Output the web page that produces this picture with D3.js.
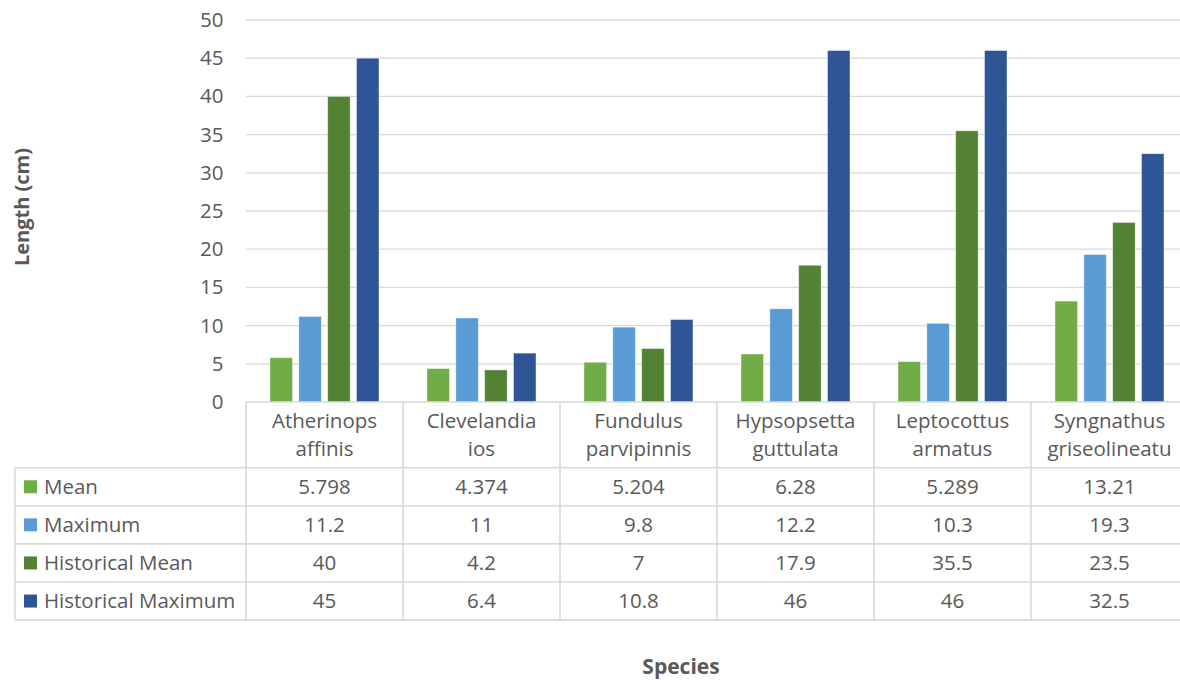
<!DOCTYPE html>
<html>
<head>
<meta charset="utf-8">
<script src="https://cdn.jsdelivr.net/npm/d3@7"></script>
<style>
  html, body { margin: 0; padding: 0; background: #fff; }
  svg { display: block; }
  text { font-family: "Open Sans", "Noto Sans", sans-serif; fill: #595959; }
</style>
</head>
<body>
<svg id="chart" width="1180" height="680"></svg>
<script>
// Species along the category axis (two-line labels)
const species = [
  "Atherinops affinis",
  "Clevelandia ios",
  "Fundulus parvipinnis",
  "Hypsopsetta guttulata",
  "Leptocottus armatus",
  "Syngnathus griseolineatu"
];

const seriesNames = ["Mean", "Maximum", "Historical Mean", "Historical Maximum"];

// Lengths in cm, one array per series
const mean       = [5.798, 4.374, 5.204, 6.28, 5.289, 13.21];
const maximum    = [11.2, 11, 9.8, 12.2, 10.3, 19.3];
const histMean   = [40, 4.2, 7, 17.9, 35.5, 23.5];
const histMax    = [45, 6.4, 10.8, 46, 46, 32.5];

const yTicks = [0, 5, 10, 15, 20, 25, 30, 35, 40, 45, 50];

const seriesValues = [mean, maximum, histMean, histMax];
const colors = ["#70AD47", "#5B9BD5", "#548235", "#2F5597"];

const svg = d3.select("#chart");

const plot = { left: 246, right: 1188, top: 20, bottom: 402 };
const table = { left: 15, headerBottom: 467.7, rowH: 38.1 };
const fs = 20.5;

const x = d3.scaleBand().domain(species).range([plot.left, plot.right]).padding(0);
const x1 = d3.scaleBand().domain(seriesNames).range([24, 133]).paddingInner(0.22);
const y = d3.scaleLinear().domain([0, 50]).range([plot.bottom, plot.top]);

// Gridlines
const grid = svg.append("g");
grid.selectAll("line").data(yTicks.filter(t => t > 0)).join("line")
  .attr("x1", plot.left).attr("x2", plot.right)
  .attr("y1", d => y(d)).attr("y2", d => y(d))
  .attr("stroke", "#d9d9d9").attr("stroke-width", 1.3);

// Y axis tick labels
const yAxis = d3.axisLeft(y).tickValues(yTicks).tickSize(0).tickPadding(22.5);
const ya = svg.append("g").attr("transform", `translate(${plot.left},0)`).call(yAxis);
ya.select(".domain").remove();
ya.selectAll("text").attr("font-size", fs).attr("fill", "#595959")
  .attr("font-family", "'Open Sans', sans-serif");

// Bars
const groups = svg.append("g").selectAll("g").data(species).join("g")
  .attr("transform", d => `translate(${x(d)},0)`);
groups.selectAll("rect")
  .data((d, i) => seriesNames.map((s, k) => ({ s, k, v: seriesValues[k][i] })))
  .join("rect")
  .attr("x", d => x1(d.s))
  .attr("width", x1.bandwidth())
  .attr("y", d => y(d.v))
  .attr("height", d => y(0) - y(d.v))
  .attr("fill", d => colors[d.k])
  .attr("stroke", "#ffffff").attr("stroke-opacity", 0.5).attr("stroke-width", 0.8);

// Data table
const lineColor = "#d9d9d9";
const tg = svg.append("g");
const rowTop = k => table.headerBottom + k * table.rowH;
const tableBottom = rowTop(seriesNames.length);

// horizontal rules
tg.append("line").attr("x1", plot.left).attr("x2", plot.right)
  .attr("y1", plot.bottom).attr("y2", plot.bottom)
  .attr("stroke", lineColor).attr("stroke-width", 1.6);
tg.selectAll("line.h").data(d3.range(seriesNames.length + 1)).join("line").attr("class", "h")
  .attr("x1", table.left).attr("x2", plot.right)
  .attr("y1", k => rowTop(k)).attr("y2", k => rowTop(k))
  .attr("stroke", lineColor).attr("stroke-width", 1.6);
// vertical rules
tg.selectAll("line.v").data(species.concat(["end"])).join("line").attr("class", "v")
  .attr("x1", (d, i) => plot.left + i * x.step()).attr("x2", (d, i) => plot.left + i * x.step())
  .attr("y1", plot.bottom).attr("y2", tableBottom)
  .attr("stroke", lineColor).attr("stroke-width", 1.6);
tg.append("line").attr("x1", table.left).attr("x2", table.left)
  .attr("y1", table.headerBottom).attr("y2", tableBottom)
  .attr("stroke", lineColor).attr("stroke-width", 1.6);

// header cells: species names on two lines
const hdr = tg.selectAll("text.hdr").data(species).join("text").attr("class", "hdr")
  .attr("text-anchor", "middle").attr("font-size", fs);
hdr.each(function (d) {
  const parts = d.split(" ");
  const t = d3.select(this);
  parts.forEach((p, j) => {
    t.append("tspan").attr("x", x(d) + x.bandwidth() / 2)
      .attr("y", 421 + j * 27.5).attr("dy", "0.35em").text(p);
  });
});

// legend keys and series names
tg.selectAll("rect.key").data(seriesNames).join("rect").attr("class", "key")
  .attr("x", 24).attr("width", 13).attr("height", 13)
  .attr("y", (d, k) => rowTop(k) + table.rowH / 2 - 6.5)
  .attr("fill", (d, k) => colors[k]);
tg.selectAll("text.lab").data(seriesNames).join("text").attr("class", "lab")
  .attr("x", 44).attr("y", (d, k) => rowTop(k) + table.rowH / 2).attr("dy", "0.35em")
  .attr("font-size", fs).text(d => d);

// value cells
seriesNames.forEach((s, k) => {
  tg.selectAll(`text.val${k}`).data(seriesValues[k]).join("text").attr("class", `val${k}`)
    .attr("text-anchor", "middle")
    .attr("x", (v, i) => x(species[i]) + x.bandwidth() / 2)
    .attr("y", rowTop(k) + table.rowH / 2).attr("dy", "0.35em")
    .attr("font-size", fs).text(v => String(v));
});

// Axis titles
svg.append("text").attr("text-anchor", "middle").attr("font-weight", "bold").attr("font-size", 20)
  .attr("transform", `translate(22,${(plot.top + plot.bottom) / 2 - 4}) rotate(-90)`)
  .attr("dy", "0.35em").text("Length (cm)");
svg.append("text").attr("text-anchor", "middle").attr("font-weight", "bold").attr("font-size", 21)
  .attr("x", 681).attr("y", 673.5).text("Species");
</script>
</body>
</html>
